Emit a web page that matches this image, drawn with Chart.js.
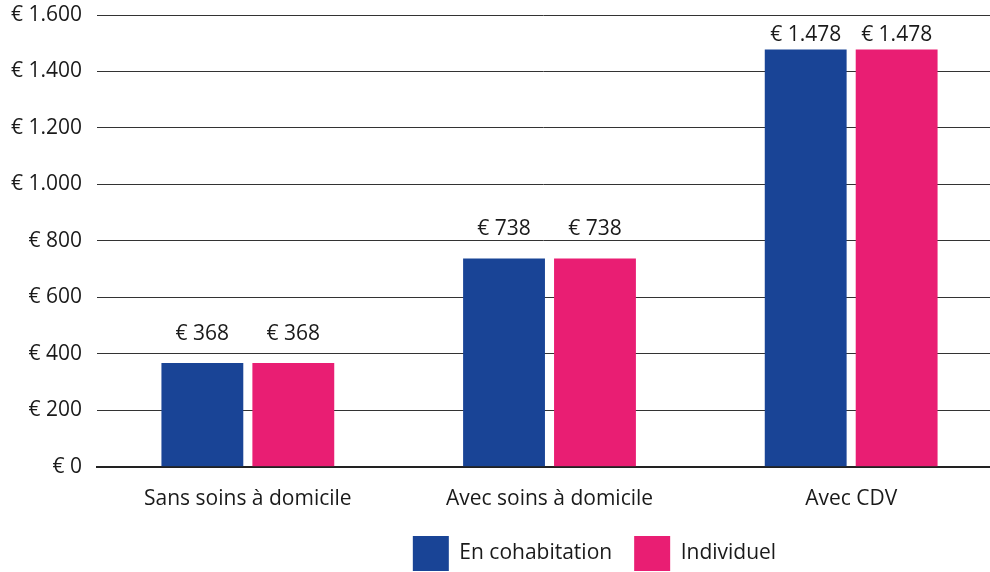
<!DOCTYPE html>
<html>
<head>
<meta charset="utf-8">
<script src="https://cdn.jsdelivr.net/npm/chart.js@4/dist/chart.umd.min.js"></script>
<style>
  html, body { margin: 0; padding: 0; background: #fff; }
  #wrap { width: 990px; height: 572px; position: relative; }
</style>
</head>
<body>
<div id="wrap"><canvas id="grafico"></canvas></div>
<script>
  const categorias = ['Sans soins à domicile', 'Avec soins à domicile', 'Avec CDV']
  const valoresCohabitation = [368, 738, 1478]
  const valoresIndividuel = [368, 738, 1478]
  const nomesSeries = ['En cohabitation', 'Individuel']
  const coresSeries = ['#194496', '#e91e73']
  const ticksY = [0, 200, 400, 600, 800, 1000, 1200, 1400, 1600]

  // formato europeu: € 1.478
  function formatarEuro (v) {
    return '€ ' + new Intl.NumberFormat('de-DE').format(v)
  }

  // plugin simples para escrever o valor acima de cada barra
  const rotulosBarras = {
    id: 'rotulosBarras',
    afterDatasetsDraw (chart) {
      const c = chart.ctx
      const topo = chart.chartArea.top
      c.save()
      c.font = '21px "Open Sans"'
      c.fillStyle = '#1a1a1a'
      c.textAlign = 'center'
      c.textBaseline = 'alphabetic'
      chart.data.datasets.forEach((ds, i) => {
        chart.getDatasetMeta(i).data.forEach((barra, j) => {
          // não deixa o texto subir acima da área do gráfico
          const y = Math.max(barra.y - 23, topo + 26)
          c.fillText(formatarEuro(ds.data[j]), barra.x, y)
        })
      })
      c.restore()
    }
  }

  // no original o eixo x passa um pouco da borda direita e a legenda fica deslocada
  const ajustesLayout = {
    id: 'ajustesLayout',
    afterLayout (chart) {
      const x = chart.scales.x
      x.right += 12
      x.width += 12
      x.configure()
      chart.legend.left += 94
      chart.legend.right += 94
    }
  }

  Chart.defaults.font.family = '"Open Sans", sans-serif'
  Chart.defaults.color = '#1a1a1a'

  new Chart(document.getElementById('grafico'), {
    type: 'bar',
    data: {
      labels: categorias,
      datasets: [
        { label: nomesSeries[0], data: valoresCohabitation, backgroundColor: coresSeries[0] },
        { label: nomesSeries[1], data: valoresIndividuel, backgroundColor: coresSeries[1] }
      ]
    },
    options: {
      responsive: true,
      maintainAspectRatio: false,
      animation: false,
      categoryPercentage: 0.603,
      barPercentage: 0.9,
      layout: { padding: { top: 15, right: 0, left: 11, bottom: -9 } },
      plugins: {
        tooltip: { enabled: false },
        legend: {
          position: 'bottom',
          labels: {
            boxWidth: 36,
            boxHeight: 35,
            padding: 22,
            font: { size: 21 },
            color: '#1a1a1a'
          }
        }
      },
      scales: {
        x: {
          grid: { display: false, tickLength: 18 },
          border: { color: '#222', width: 2 },
          ticks: { font: { size: 21 }, color: '#1a1a1a', padding: 2 }
        },
        y: {
          min: ticksY[0],
          max: ticksY[ticksY.length - 1],
          afterBuildTicks: axis => { axis.ticks = ticksY.map(v => ({ value: v })) },
          ticks: {
            font: { size: 21 },
            color: '#1a1a1a',
            padding: 0,
            callback: v => formatarEuro(v)
          },
          grid: { color: '#333', lineWidth: 1, drawTicks: true, tickLength: 15, tickColor: 'rgba(0,0,0,0)' },
          border: { display: false }
        }
      }
    },
    plugins: [rotulosBarras, ajustesLayout]
  })
</script>
</body>
</html>
